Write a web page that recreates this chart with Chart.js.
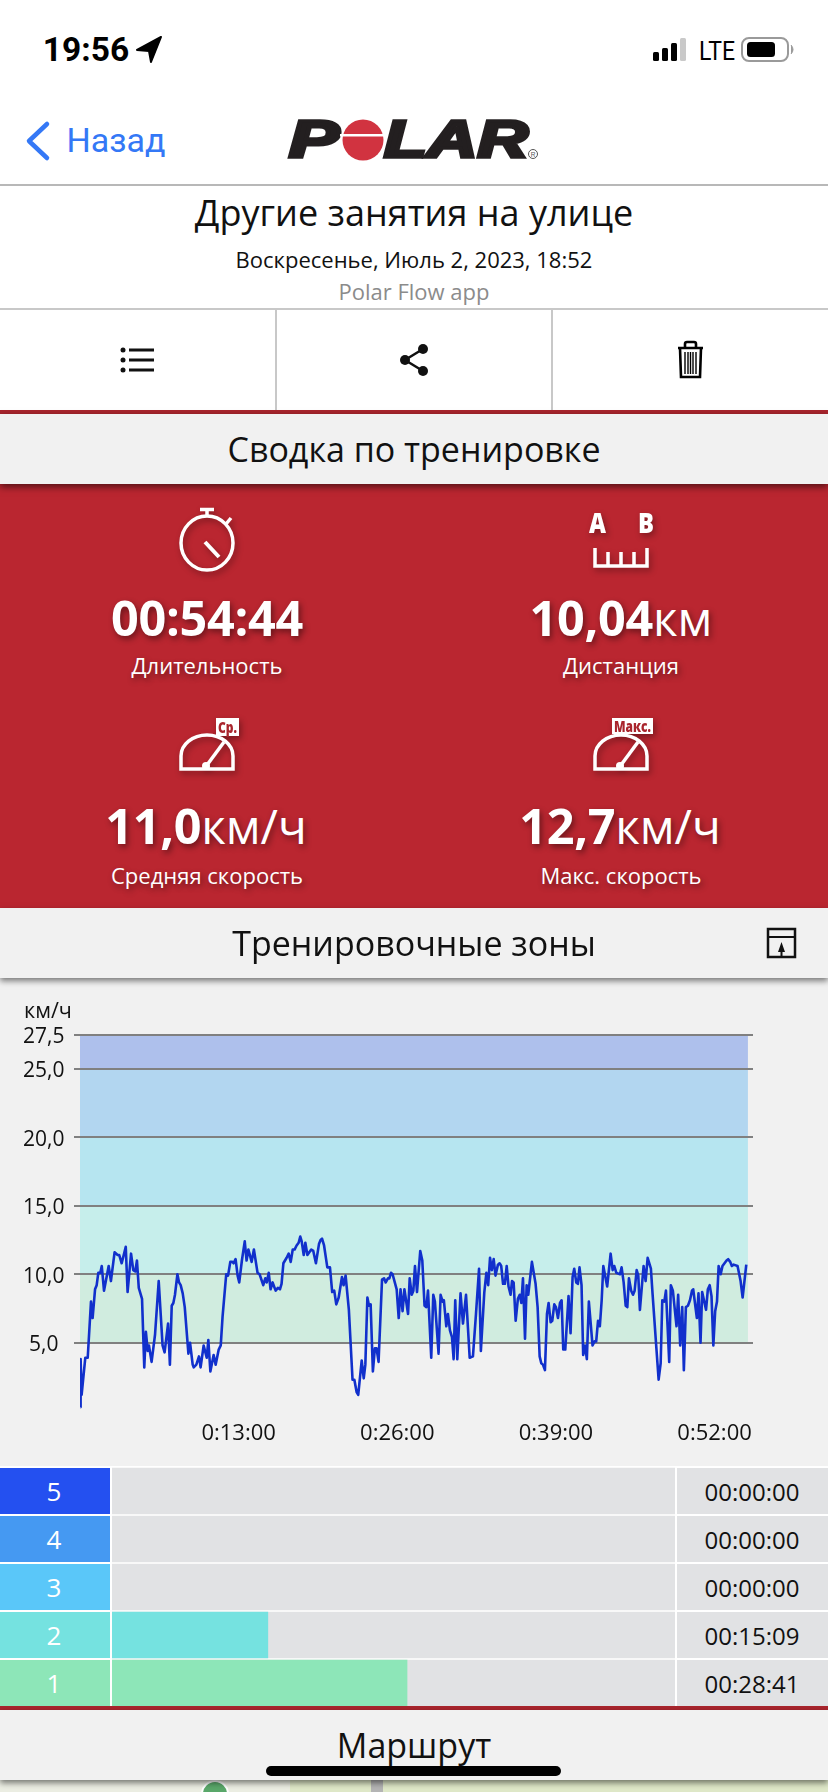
<!DOCTYPE html>
<html lang="ru">
<head>
<meta charset="utf-8">
<script src="https://cdn.jsdelivr.net/npm/chart.js@4"></script>
<style>
html,body{margin:0;padding:0;width:828px;height:1792px;overflow:hidden;background:#fff;font-family:"Open Sans",sans-serif;color:#111}
.a{position:absolute}
.t{position:absolute;white-space:nowrap;transform:translate(-50%,-50%);line-height:1.2}
.box{position:absolute;left:0;width:828px}
.m{color:#fff;text-shadow:2px 3px 6px rgba(0,0,0,.45)}
.big{font-size:48.6px;font-weight:700;letter-spacing:-.3px}
.big span{font-weight:400;font-size:47.5px;letter-spacing:0}
.lab{font-size:22px;font-weight:400}
svg{position:absolute;overflow:visible}
canvas{position:absolute;display:block}
</style>
</head>
<body>
<!-- status bar -->
<div class="t" style="left:86px;top:49px;font:700 33.500px Roboto,sans-serif;color:#000">19:56</div>
<svg style="left:0;top:0" width="828" height="110">
  <path d="M161 37 L137 50 L149 51 L151 62 Z" fill="#000" stroke="#000" stroke-width="2" stroke-linejoin="round"/>
  <rect x="653" y="52" width="6" height="9" rx="1.5" fill="#000"/>
  <rect x="662" y="48" width="6" height="13" rx="1.5" fill="#000"/>
  <rect x="671" y="43" width="6" height="18" rx="1.5" fill="#000"/>
  <rect x="680" y="38" width="6" height="23" rx="1.5" fill="#c9c9c9"/>
  <rect x="742" y="38" width="46" height="23" rx="7" fill="none" stroke="#9a9a9a" stroke-width="2"/>
  <rect x="747" y="42" width="28" height="15" rx="3.5" fill="#000"/>
  <path d="M791 45 q4 4.500 0 9" fill="#9a9a9a" stroke="#9a9a9a" stroke-width="1"/>
  <path d="M47 124 L29 141 L47 158" fill="none" stroke="#3478f6" stroke-width="4.500" stroke-linecap="round" stroke-linejoin="round"/>
</svg>
<div class="t" style="left:717px;top:51px;font:400 25px Roboto,sans-serif;color:#000;transform:translate(-50%,-50%) scaleX(.92)">LTE</div>
<div class="t" style="left:116px;top:140px;font:400 34px Roboto,sans-serif;color:#3478f6">Назад</div>

<!-- logo -->
<svg style="left:0;top:0" width="828" height="184">
  <g font-family="Liberation Sans" font-weight="700" font-style="italic" font-size="52" fill="#231f20" stroke="#231f20" stroke-width="3.500">
    <text x="289" y="156.500" textLength="50" lengthAdjust="spacingAndGlyphs">P</text>
    <text x="384" y="156.500" textLength="144" lengthAdjust="spacingAndGlyphs">LAR</text>
  </g>
  <circle cx="363" cy="140" r="20.500" fill="#d13340"/>
  <rect x="340" y="134" width="46" height="2.500" fill="#fff"/>
  <circle cx="533" cy="154" r="4.500" fill="none" stroke="#555" stroke-width="1"/>
  <text x="533" y="156.500" font-size="6.500" text-anchor="middle" fill="#555" font-family="Liberation Sans">R</text>
</svg>
<div class="box" style="top:184px;height:1.500px;background:#b8b8b8"></div>

<div class="t" style="left:414px;top:213px;font-size:36px">Другие занятия на улице</div>
<div class="t" style="left:414px;top:259px;font-size:22px">Воскресенье, Июль 2, 2023, 18:52</div>
<div class="t" style="left:414px;top:291px;font-size:22px;color:#8b8b8b">Polar Flow app</div>

<div class="box" style="top:308px;height:2px;background:#c8c8c8"></div>
<div class="a" style="left:275px;top:309px;width:2px;height:101px;background:#c8c8c8"></div>
<div class="a" style="left:551px;top:309px;width:2px;height:101px;background:#c8c8c8"></div>
<svg style="left:0;top:300px" width="828" height="110">
  <g fill="#111">
    <circle cx="123" cy="50" r="2.500"/><circle cx="123" cy="60" r="2.500"/><circle cx="123" cy="70" r="2.500"/>
    <rect x="129" y="48.500" width="25" height="3"/><rect x="129" y="58.500" width="25" height="3"/><rect x="129" y="68.500" width="25" height="3"/>
    <circle cx="423" cy="49" r="5"/><circle cx="405" cy="60" r="5"/><circle cx="423" cy="71" r="5"/>
  </g>
  <path d="M423 49 L405 60 L423 71" fill="none" stroke="#111" stroke-width="2.500"/>
  <g fill="none" stroke="#000" stroke-width="2.600">
    <path d="M678 48 H703 M685 48 V44 Q685 42 687 42 H694 Q696 42 696 44 V48"/>
    <path d="M680 48 L681 77 H700 L701 48"/>
  </g>
  <g stroke="#000" stroke-width="1.400"><path d="M685 52 V74 M688 52 V74 M690.500 52 V74 M693 52 V74 M696 52 V74"/></g>
</svg>

<div class="box" style="top:410px;height:4px;background:#a9252d"></div>
<div class="box" style="top:414px;height:70px;background:#f1f1f1;z-index:3;box-shadow:0 3px 7px rgba(0,0,0,.55)"></div>
<div class="t" style="left:414px;top:449px;font-size:34px;z-index:4">Сводка по тренировке</div>

<!-- summary panel -->
<div class="box" style="top:484px;height:424px;background:#ba2630"></div>
<svg style="left:0;top:484px;filter:drop-shadow(2px 3px 3px rgba(0,0,0,.35))" width="828" height="424">
  <g fill="none" stroke="#fff" stroke-width="3.500">
    <ellipse cx="207" cy="59" rx="26" ry="27"/>
    <path d="M207 32 V26 M200 25.500 H214 M226 40 L231 34"/>
    <path d="M205 58 L219 73" stroke-width="4"/>
    <path d="M595 64 V82 H647 V64 M608 68 V82 M621 68 V82 M634 68 V82"/>
    <path d="M181 285 V272 A26 21 0 0 1 233 272 V285 Z"/>
    <path d="M207 281 L224 258"/>
    <path d="M595 285 V272 A26 21 0 0 1 647 272 V285 Z"/>
    <path d="M621 281 L638 258"/>
  </g>
  <circle cx="206" cy="282" r="4" fill="#fff"/><circle cx="620" cy="282" r="4" fill="#fff"/>
  <g fill="#fff" font-family="Open Sans" font-weight="800" font-size="28">
    <text x="589" y="49" textLength="17" lengthAdjust="spacingAndGlyphs">A</text>
    <text x="638" y="49" textLength="16" lengthAdjust="spacingAndGlyphs">B</text>
  </g>
  <rect x="216" y="234" width="23" height="18" fill="#fff"/>
  <text x="218" y="249" fill="#a9252d" font-family="Open Sans" font-weight="800" font-size="16" textLength="19" lengthAdjust="spacingAndGlyphs">Ср.</text>
  <rect x="612" y="234" width="41" height="16" fill="#fff"/>
  <text x="614" y="248" fill="#a9252d" font-family="Open Sans" font-weight="800" font-size="15" textLength="37" lengthAdjust="spacingAndGlyphs">Макс.</text>
</svg>
<div class="t m big" style="left:207px;top:617px">00:54:44</div>
<div class="t m big" style="left:621px;top:617px">10,04<span>км</span></div>
<div class="t m lab" style="left:207px;top:665px">Длительность</div>
<div class="t m lab" style="left:621px;top:665px">Дистанция</div>
<div class="t m big" style="left:206px;top:825px">11,0<span>км/ч</span></div>
<div class="t m big" style="left:620px;top:825px">12,7<span>км/ч</span></div>
<div class="t m lab" style="left:207px;top:875px">Средняя скорость</div>
<div class="t m lab" style="left:621px;top:875px">Макс. скорость</div>

<!-- zones header -->
<div class="box" style="top:908px;height:70px;background:#f1f1f1;z-index:3;box-shadow:0 3px 6px rgba(0,0,0,.5)"></div>
<div class="t" style="left:414px;top:943px;font-size:34px;z-index:4">Тренировочные зоны</div>
<svg style="left:0;top:908px;z-index:4" width="828" height="70">
  <rect x="768" y="21" width="27" height="28" fill="none" stroke="#111" stroke-width="2.500"/>
  <path d="M768 29 H795" stroke="#111" stroke-width="2"/>
  <path d="M781.500 34 L785 44 H782.500 V48 H780.500 V44 H778 Z" fill="#111"/>
</svg>

<!-- speed chart -->
<div class="box" style="top:978px;height:488px;background:#f1f1f1"></div>
<canvas id="speedChart" width="828" height="488" style="left:0;top:978px;width:828px;height:488px"></canvas>
<div class="t" style="left:48px;top:1010px;font-size:21.500px">км/ч</div>

<!-- zones table -->
<div class="box" style="top:1466px;height:240px;background:#fff"></div>
<div id="zoneCells"></div>
<canvas id="zoneChart" width="563" height="240" style="left:112px;top:1467px;width:563px;height:240px"></canvas>
<div class="box" style="top:1706px;height:4px;background:#a9252d"></div>
<div class="box" style="top:1710px;height:82px;background:#eceee3;overflow:hidden">
  <svg style="left:0;top:0" width="828" height="82">
    <rect x="290" y="70" width="540" height="12" fill="#dfe8c8"/>
    <circle cx="215" cy="84" r="13" fill="#5aa86a" stroke="#fff" stroke-width="2"/>
    <rect x="371" y="70" width="12" height="12" fill="#b5b5b5"/>
  </svg>
</div>
<div class="box" style="top:1710px;height:70px;background:#f1f1f1;box-shadow:0 3px 6px rgba(0,0,0,.5)"></div>
<div class="t" style="left:414px;top:1745px;font-size:34px">Маршрут</div>
<div class="a" style="left:266px;top:1766px;width:295px;height:10px;border-radius:5px;background:#000"></div>

<script>
// Speed trace: time in seconds, speed in km/h
const seconds = [2,3,8,26,38,54,62,74,82,90,100,107,118,141,152,170,185,193,205,225,234,251,262,272,280,289,305,316,324,333,339,352,369,387,406,416,433,442,451,459,467,479,487,495,505,515,533,541,554,559,572,585,593,608,618,623,631,641,657,667,682,692,701,719,728,739,749,755,765,775,783,796,810,819,828,844,855,873,883,901,911,918,928,937,947,962,973,983,991,1000,1016,1026,1036,1046,1055,1065,1075,1083,1090,1100,1108,1118,1137,1147,1160,1175,1183,1190,1200,1216,1229,1240,1250,1260,1272,1288,1296,1306,1322,1340,1349,1360,1368,1385,1395,1403,1413,1421,1429,1440,1450,1458,1468,1485,1495,1503,1514,1521,1529,1537,1557,1567,1576,1586,1595,1613,1621,1631,1639,1647,1657,1673,1683,1694,1703,1711,1727,1737,1745,1763,1773,1783,1789,1801,1809,1819,1829,1837,1845,1855,1871,1883,1898,1916,1932,1947,1962,1971,1988,1998,2007,2016,2025,2034,2043,2055,2063,2071,2080,2089,2098,2107,2117,2124,2132,2142,2153,2162,2170,2178,2188,2196,2204,2222,2240,2250,2260,2268,2276,2286,2296,2304,2314,2322,2332,2340,2350,2360,2368,2376,2386,2402,2412,2422,2430,2440,2448,2456,2466,2474,2483,2492,2502,2520,2530,2538,2547,2556,2565,2573,2592,2609,2619,2627,2637,2655,2663,2673,2683,2691,2699,2710,2719,2727,2737,2745,2753,2771,2781,2791,2807,2815,2832,2845,2855,2863,2873,2881,2897,2905,2915,2933,2941,2951,2961,2969,2979,2989,2999,3009,3015,3033,3041,3051,3059,3078,3087,3096,3105,3114,3123,3132,3140,3150,3159,3179,3187,3197,3205,3214,3233,3248,3258,3276];
const speeds = [0.3,3.8,1.2,3.9,3.9,8.0,6.8,8.9,9.2,10.1,10.1,10.6,8.8,10.6,9.5,11.6,11.4,11.4,10.8,12.0,8.7,11.5,10.3,10.2,11.0,9.0,8.2,3.2,5.8,4.4,4.8,3.6,5.6,9.5,4.8,4.3,6.4,3.4,7.7,7.9,8.5,10.0,9.4,9.2,8.6,7.6,4.2,5.0,3.4,3.2,3.4,4.0,3.2,4.8,4.2,3.9,5.2,2.9,4.1,3.4,4.5,4.8,6.9,10.0,9.9,10.9,10.9,10.8,11.1,9.9,9.4,11.0,12.4,11.0,11.8,10.9,11.8,10.1,10.0,9.2,9.7,9.4,10.1,8.9,9.4,8.8,9.0,8.9,9.3,10.8,11.2,11.5,10.9,11.8,11.8,12.1,12.3,12.75,12.4,11.4,12.3,11.4,11.8,11.7,10.8,12.2,12.5,12.6,12.1,10.5,10.5,8.7,8.8,7.8,8.3,9.8,9.2,9.9,7.4,2.3,2.3,1.4,1.2,3.7,2.4,3.4,8.3,7.7,7.8,2.9,4.6,4.6,3.6,9.6,9.7,9.4,9.7,9.7,10.1,10.0,8.9,6.8,8.9,7.3,8.9,7.1,9.7,8.5,8.8,10.6,8.7,11.7,11.0,7.7,7.6,8.8,3.9,8.5,8.0,4.2,8.5,8.0,8.1,6.2,7.1,5.9,5.4,3.8,8.1,3.8,8.6,6.4,8.5,3.9,4.0,7.1,10.4,4.4,8.7,10.1,9.2,11.2,10.3,11.1,9.9,10.7,10.8,10.6,9.3,9.3,10.6,9.1,8.5,9.5,9.4,6.6,8.2,8.5,7.9,9.7,5.3,9.2,8.5,10.9,9.3,7.6,4.0,3.5,3.4,3.0,7.1,7.9,6.5,6.6,7.8,7.6,6.8,7.9,8.1,4.5,4.5,8.4,5.7,9.8,10.4,9.4,9.3,10.5,9.2,4.1,4.8,3.8,8.0,4.8,5.1,5.1,6.6,6.2,8.1,10.6,9.1,11.5,10.3,10.6,10.1,10.0,10.5,9.4,7.7,7.6,9.7,8.8,8.5,8.8,10.3,9.9,7.4,10.6,9.5,11.2,10.4,8.6,5.0,2.3,3.5,8.1,8.0,8.8,3.6,9.2,8.8,6.2,8.5,4.8,7.6,3.0,7.6,7.7,8.1,8.8,8.9,6.8,8.6,5.0,8.7,7.4,8.9,9.2,8.4,4.8,7.3,8.0,10.6,10.0,10.6,11.0,11.1,10.9,10.6,10.7,10.6,9.5,8.3,10.7];
const durationSeconds = 3284;
const xAxisMax = 3309;
const xTickValues = [780,1560,2340,3120];
const yTickValues = [5,10,15,20,25,27.5];
const bandEdges = [5,10,15,20,25,27.5];
const bandColors = ['#d0ecdf','#c6eeeb','#b6e5f0','#b2d6f0','#aec0ec'];

// Zones table
const zoneNames = ['5','4','3','2','1'];
const zoneSeconds = [null,null,null,909,1721];
const zoneTimes = ['00:00:00','00:00:00','00:00:00','00:15:09','00:28:41'];
const zoneColors = ['#2450f0','#4599f2','#5ac7f9','#75e2e0','#8de6b8'];

const bandsPlugin = {
  id:'bands',
  beforeDraw(chart){
    const {ctx,scales:{x,y}} = chart;
    const x0 = x.getPixelForValue(0), x1 = x.getPixelForValue(durationSeconds);
    bandColors.forEach((c,i)=>{
      const top = y.getPixelForValue(bandEdges[i+1]), bot = y.getPixelForValue(bandEdges[i]);
      ctx.fillStyle = c;
      ctx.fillRect(x0,top,x1-x0,bot-top);
    });
  }
};

new Chart(document.getElementById('speedChart'),{
  type:'line',
  data:{datasets:[{
    data:seconds.map((s,i)=>({x:s,y:speeds[i]})),
    borderColor:'#1130cc',borderWidth:2.6,pointRadius:0,tension:0,fill:false,borderJoinStyle:'round'
  }]},
  options:{
    responsive:false,animation:false,devicePixelRatio:1,
    layout:{padding:{left:0,right:75,top:56.5,bottom:0}},
    plugins:{legend:{display:false},tooltip:{enabled:false},title:{display:false}},
    scales:{
      x:{type:'linear',min:0,max:xAxisMax,
        grid:{display:false},border:{display:false},
        afterBuildTicks(s){s.ticks=xTickValues.map(value=>({value}));},
        afterFit(s){s.height=54.8;},
        ticks:{color:'#111',font:{family:'"Open Sans"',size:22},padding:1,maxRotation:0,autoSkip:false,
          callback(v){const m=Math.floor(v/60),sec=v%60;return '0:'+String(m).padStart(2,'0')+':'+String(sec).padStart(2,'0');}}
      },
      y:{type:'linear',min:0,max:27.5,
        grid:{color:'#808080',lineWidth:2,tickLength:6,drawTicks:true},border:{display:false},
        afterBuildTicks(s){s.ticks=yTickValues.map(value=>({value}));},
        afterFit(s){s.width=80;},
        ticks:{color:'#111',font:{family:'"Open Sans"',size:21},padding:9.5,labelOffset:2.5,crossAlign:'center',autoSkip:false,
          callback(v){return v.toFixed(1).replace('.',',');}}
      }
    }
  },
  plugins:[bandsPlugin]
});

new Chart(document.getElementById('zoneChart'),{
  type:'bar',
  data:{labels:zoneNames,datasets:[
    {data:zoneSeconds,backgroundColor:zoneColors,barThickness:46,grouped:false,order:1},
    {data:zoneNames.map(()=>durationSeconds),backgroundColor:'#e1e2e4',barThickness:46,grouped:false,order:2}
  ]},
  options:{
    indexAxis:'y',responsive:false,animation:false,devicePixelRatio:1,
    layout:{padding:0},
    plugins:{legend:{display:false},tooltip:{enabled:false}},
    scales:{
      x:{display:false,min:0,max:durationSeconds},
      y:{display:false}
    }
  }
});

// Zone number and time cells
const cells = document.getElementById('zoneCells');
zoneNames.forEach((n,i)=>{
  const top = 1468+48*i;
  cells.insertAdjacentHTML('beforeend',
    `<div class="a" style="left:0;top:${top}px;width:110px;height:46px;background:${zoneColors[i]}"></div>`+
    `<div class="t" style="left:54px;top:${top+24}px;font-size:26px;color:#fff">${n}</div>`+
    `<div class="a" style="left:677px;top:${top}px;width:151px;height:46px;background:#e1e2e4"></div>`+
    `<div class="t" style="left:752px;top:${top+24}px;font-size:24px">${zoneTimes[i]}</div>`);
});
</script>
</body>
</html>
